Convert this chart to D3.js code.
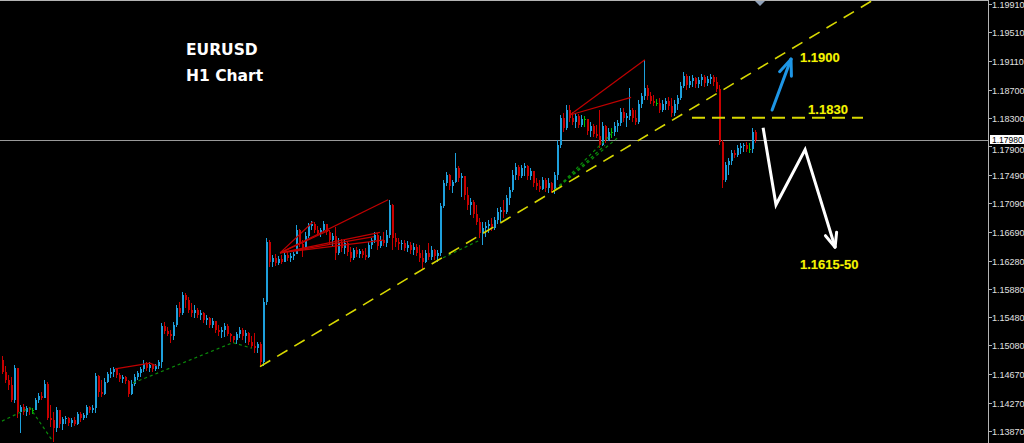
<!DOCTYPE html>
<html><head><meta charset="utf-8">
<script src="https://cdn.jsdelivr.net/npm/d3@7"></script>
<style>html,body{margin:0;padding:0;background:#000;overflow:hidden}</style>
</head><body><svg id="c" width="1024" height="443"></svg>
<script>
// ---- data (EURUSD H1) ----
const open0 = 1.1488;
const high = [
1.1493,1.1479,1.1466,1.1464,1.1481,1.1471,1.1424,1.1425,1.1423,1.1421,
1.1420,1.1434,1.1441,1.1442,1.1459,1.1457,1.1424,1.1414,1.1421,1.1414,
1.1407,1.1408,1.1407,1.1406,1.1407,1.1414,1.1414,1.1413,1.1424,1.1423,
1.1424,1.1469,1.1466,1.1459,1.1462,1.1471,1.1476,1.1478,1.1476,1.1469,
1.1466,1.1465,1.1459,1.1459,1.1468,1.1472,1.1478,1.1488,1.1485,1.1484,
1.1482,1.1482,1.1488,1.1540,1.1541,1.1534,1.1530,1.1541,1.1565,1.1570,
1.1584,1.1582,1.1577,1.1568,1.1565,1.1561,1.1558,1.1556,1.1551,1.1548,
1.1547,1.1543,1.1537,1.1534,1.1540,1.1538,1.1526,1.1522,1.1527,1.1534,
1.1533,1.1530,1.1527,1.1522,1.1526,1.1513,1.1513,1.1575,1.1660,1.1657,
1.1636,1.1638,1.1635,1.1636,1.1640,1.1640,1.1639,1.1640,1.1679,1.1673,
1.1657,1.1669,1.1681,1.1684,1.1683,1.1677,1.1674,1.1684,1.1680,1.1671,
1.1667,1.1676,1.1660,1.1659,1.1657,1.1656,1.1647,1.1646,1.1647,1.1645,
1.1645,1.1646,1.1655,1.1660,1.1669,1.1667,1.1663,1.1669,1.1671,1.1714,
1.1708,1.1667,1.1660,1.1657,1.1657,1.1656,1.1655,1.1653,1.1652,1.1650,
1.1643,1.1643,1.1653,1.1649,1.1645,1.1643,1.1710,1.1742,1.1754,1.1751,
1.1742,1.1780,1.1762,1.1752,1.1748,1.1732,1.1717,1.1714,1.1707,1.1689,
1.1683,1.1683,1.1686,1.1688,1.1690,1.1703,1.1704,1.1714,1.1721,1.1732,
1.1756,1.1766,1.1763,1.1763,1.1766,1.1763,1.1759,1.1754,1.1745,1.1742,
1.1746,1.1745,1.1745,1.1739,1.1754,1.1799,1.1834,1.1837,1.1848,1.1848,
1.1838,1.1837,1.1835,1.1834,1.1833,1.1827,1.1824,1.1821,1.1820,1.1841,
1.1824,1.1820,1.1816,1.1816,1.1824,1.1827,1.1844,1.1844,1.1837,1.1872,
1.1844,1.1841,1.1855,1.1865,1.1912,1.1877,1.1867,1.1862,1.1857,1.1858,
1.1855,1.1858,1.1860,1.1858,1.1855,1.1862,1.1881,1.1895,1.1892,1.1889,
1.1891,1.1888,1.1888,1.1892,1.1891,1.1889,1.1892,1.1891,1.1888,1.1877,
1.1799,1.1768,1.1773,1.1785,1.1785,1.1792,1.1795,1.1795,1.1796,1.1795,
1.1816,1.1813];
const low = [
1.1468,1.1455,1.1445,1.1428,1.1427,1.1406,1.1384,1.1410,1.1408,1.1410,
1.1411,1.1416,1.1427,1.1431,1.1433,1.1403,1.1393,1.1372,1.1385,1.1391,
1.1389,1.1397,1.1394,1.1393,1.1394,1.1396,1.1400,1.1403,1.1406,1.1413,
1.1413,1.1413,1.1435,1.1435,1.1438,1.1455,1.1462,1.1464,1.1462,1.1457,
1.1455,1.1454,1.1435,1.1438,1.1451,1.1459,1.1464,1.1471,1.1472,1.1471,
1.1471,1.1472,1.1474,1.1476,1.1524,1.1522,1.1512,1.1516,1.1534,1.1548,
1.1551,1.1561,1.1554,1.1548,1.1547,1.1547,1.1544,1.1540,1.1537,1.1533,
1.1533,1.1526,1.1522,1.1519,1.1520,1.1522,1.1513,1.1512,1.1510,1.1519,
1.1516,1.1512,1.1509,1.1505,1.1498,1.1498,1.1478,1.1479,1.1565,1.1619,
1.1619,1.1621,1.1622,1.1623,1.1626,1.1628,1.1626,1.1629,1.1638,1.1647,
1.1633,1.1643,1.1660,1.1671,1.1667,1.1663,1.1662,1.1669,1.1664,1.1650,
1.1649,1.1629,1.1636,1.1640,1.1638,1.1635,1.1626,1.1629,1.1633,1.1632,
1.1632,1.1629,1.1632,1.1645,1.1653,1.1643,1.1646,1.1649,1.1647,1.1660,
1.1643,1.1647,1.1643,1.1643,1.1642,1.1640,1.1638,1.1636,1.1635,1.1626,
1.1615,1.1625,1.1629,1.1629,1.1629,1.1626,1.1635,1.1703,1.1734,1.1728,
1.1724,1.1738,1.1739,1.1718,1.1714,1.1700,1.1693,1.1688,1.1679,1.1660,
1.1650,1.1662,1.1667,1.1670,1.1671,1.1680,1.1683,1.1688,1.1694,1.1707,
1.1725,1.1742,1.1742,1.1745,1.1748,1.1742,1.1742,1.1732,1.1728,1.1725,
1.1728,1.1725,1.1724,1.1724,1.1722,1.1742,1.1787,1.1810,1.1813,1.1824,
1.1820,1.1816,1.1816,1.1817,1.1817,1.1806,1.1803,1.1803,1.1802,1.1787,
1.1790,1.1795,1.1797,1.1802,1.1804,1.1810,1.1818,1.1824,1.1817,1.1827,
1.1824,1.1820,1.1821,1.1844,1.1855,1.1855,1.1850,1.1847,1.1847,1.1837,
1.1838,1.1841,1.1841,1.1831,1.1833,1.1841,1.1855,1.1872,1.1869,1.1872,
1.1874,1.1872,1.1872,1.1875,1.1874,1.1875,1.1878,1.1875,1.1867,1.1792,
1.1731,1.1739,1.1749,1.1763,1.1773,1.1775,1.1779,1.1782,1.1782,1.1780,
1.1780,1.1795];
const close = [
1.1471,1.1459,1.1452,1.1431,1.1476,1.1414,1.1421,1.1414,1.1420,1.1416,
1.1416,1.1431,1.1437,1.1434,1.1454,1.1406,1.1403,1.1391,1.1417,1.1397,
1.1404,1.1406,1.1399,1.1403,1.1397,1.1411,1.1406,1.1410,1.1421,1.1417,
1.1420,1.1465,1.1442,1.1440,1.1457,1.1468,1.1471,1.1474,1.1466,1.1461,
1.1464,1.1458,1.1440,1.1454,1.1464,1.1469,1.1475,1.1482,1.1476,1.1481,
1.1475,1.1479,1.1485,1.1536,1.1529,1.1524,1.1522,1.1537,1.1561,1.1554,
1.1580,1.1572,1.1558,1.1554,1.1558,1.1551,1.1554,1.1544,1.1547,1.1537,
1.1543,1.1530,1.1527,1.1530,1.1536,1.1524,1.1522,1.1516,1.1524,1.1530,
1.1522,1.1526,1.1513,1.1507,1.1505,1.1510,1.1485,1.1570,1.1655,1.1626,
1.1632,1.1625,1.1631,1.1626,1.1636,1.1632,1.1635,1.1638,1.1671,1.1652,
1.1646,1.1663,1.1677,1.1680,1.1671,1.1667,1.1671,1.1680,1.1669,1.1657,
1.1663,1.1639,1.1655,1.1646,1.1653,1.1640,1.1632,1.1643,1.1638,1.1642,
1.1636,1.1633,1.1650,1.1657,1.1664,1.1649,1.1657,1.1653,1.1664,1.1707,
1.1660,1.1655,1.1652,1.1653,1.1646,1.1650,1.1643,1.1647,1.1639,1.1632,
1.1626,1.1639,1.1633,1.1643,1.1635,1.1639,1.1705,1.1738,1.1749,1.1734,
1.1739,1.1759,1.1745,1.1748,1.1721,1.1707,1.1711,1.1694,1.1683,1.1667,
1.1674,1.1677,1.1680,1.1674,1.1686,1.1697,1.1700,1.1697,1.1717,1.1728,
1.1749,1.1761,1.1748,1.1759,1.1762,1.1748,1.1755,1.1738,1.1734,1.1730,
1.1742,1.1731,1.1738,1.1728,1.1749,1.1792,1.1830,1.1816,1.1841,1.1830,
1.1824,1.1833,1.1820,1.1828,1.1828,1.1811,1.1818,1.1807,1.1804,1.1792,
1.1818,1.1799,1.1810,1.1810,1.1818,1.1823,1.1838,1.1830,1.1833,1.1841,
1.1830,1.1824,1.1850,1.1861,1.1872,1.1861,1.1854,1.1851,1.1851,1.1841,
1.1850,1.1854,1.1847,1.1837,1.1850,1.1858,1.1875,1.1889,1.1877,1.1882,
1.1886,1.1878,1.1884,1.1888,1.1879,1.1885,1.1888,1.1881,1.1871,1.1796,
1.1742,1.1763,1.1769,1.1780,1.1778,1.1787,1.1790,1.1792,1.1786,1.1786,
1.1810,1.1798];

const tickLabels = ["1.19910","1.19510","1.19110","1.18700","1.18300","1.17900","1.17490",
  "1.17090","1.16690","1.16280","1.15880","1.15480","1.15080","1.14670","1.14270","1.13870"];
const lastPrice = 1.17980;

// annotation objects (bar index, price)
const trendAnchors = [[86, 1.1478], [140, 1.1615]];
const levelLine = {from: 230, to: 287, price: 1.1830};
const blueArrow = [[256.7, 1.1841], [263.0, 1.1913]];
const whiteZigzag = [[253.7, 1.1816], [258.0, 1.1707], [267.7, 1.1785], [277.7, 1.1647]];
const redLines = [
  [[37.7, 1.1475], [49.3, 1.1483], [51.7, 1.1479]],
  [[92.7, 1.1639], [128.7, 1.1714]],
  [[92.7, 1.1639], [103.7, 1.1683]],
  [[92.7, 1.1639], [109.0, 1.1671]],
  [[92.7, 1.1639], [126.0, 1.1668]],
  [[92.7, 1.1639], [127.0, 1.1657]],
  [[96.0, 1.1641], [124.0, 1.1662]],
  [[189.3, 1.1834], [214.3, 1.1912]],
  [[189.3, 1.1834], [209.7, 1.1859]]
];
const greenLines = [
  [[0, 1.1401], [9.3, 1.1420], [17.0, 1.1372]],
  [[43.7, 1.1455], [77.0, 1.1512], [83.3, 1.1504]],
  [[184.3, 1.1728], [203.3, 1.1808]],
  [[184.3, 1.1728], [205.0, 1.1801]],
  [[184.3, 1.1728], [201.0, 1.1791]],
  [[147.0, 1.1632], [159.3, 1.1657]]
];
const labels = [
  {text: "1.1900", bar: 266.0, price: 1.1909},
  {text: "1.1830", bar: 268.7, price: 1.1836},
  {text: "1.1615-50", bar: 266.0, price: 1.1616}
];
const titleLines = ["EURUSD", "H1 Chart"];

// ---- drawing ----
const W = 1024, H = 443, axisX = 988;
const svg = d3.select("#c");
svg.append("rect").attr("width", W).attr("height", H).attr("fill", "#000");

const x = d3.scaleLinear().domain([0, 251]).range([2, 755]);
const y = d3.scaleLinear().domain([1.13870, 1.19910]).range([431, 4]);

const bars = close.map((c, i) => {
  const o = i === 0 ? open0 : close[i - 1];
  return {i, o, c, h: Math.max(high[i], o, c), l: Math.min(low[i], o, c)};
});

const plot = svg.append("g");
// frame
plot.append("line").attr("x1", 0).attr("x2", axisX).attr("y1", 0.5).attr("y2", 0.5)
  .attr("stroke", "#b4b4b4").attr("stroke-width", 1);
// current price line
plot.append("line").attr("x1", 0).attr("x2", axisX).attr("y1", Math.round(y(lastPrice)) + 0.5)
  .attr("y2", Math.round(y(lastPrice)) + 0.5).attr("stroke", "#9a9a9a").attr("stroke-width", 1);

// candles
const colorOf = d => Math.abs(d.c - d.o) < 0.00005 ? "#00c000" : (d.c > d.o ? "#1ea0dc" : "#c80000");
const cg = plot.append("g").attr("shape-rendering", "crispEdges");
cg.selectAll("line.w").data(bars).join("line")
  .attr("x1", d => Math.round(x(d.i)) + 0.5).attr("x2", d => Math.round(x(d.i)) + 0.5)
  .attr("y1", d => y(d.h)).attr("y2", d => y(d.l))
  .attr("stroke", colorOf).attr("stroke-width", 1);
cg.selectAll("rect.b").data(bars).join("rect")
  .attr("x", d => Math.round(x(d.i))).attr("width", 2)
  .attr("y", d => y(Math.max(d.o, d.c)))
  .attr("height", d => Math.max(1, Math.abs(y(d.o) - y(d.c))))
  .attr("fill", colorOf);

const line = d3.line().x(p => x(p[0])).y(p => y(p[1]));

// green dotted lines
plot.selectAll("path.g").data(greenLines).join("path")
  .attr("d", line).attr("fill", "none").attr("stroke", "#0a8a0a")
  .attr("stroke-width", 1.2).attr("stroke-dasharray", "3,3");

// red pattern lines
plot.selectAll("path.r").data(redLines).join("path")
  .attr("d", line).attr("fill", "none").attr("stroke", "#c00000").attr("stroke-width", 1.2);

// yellow trend line (ray)
const [a0, a1] = trendAnchors;
const slope = (a1[1] - a0[1]) / (a1[0] - a0[0]);
const endBar = 300;
plot.append("path")
  .attr("d", line([a0, [endBar, a0[1] + slope * (endBar - a0[0])]]))
  .attr("fill", "none").attr("stroke", "#d8d800").attr("stroke-width", 1.6)
  .attr("stroke-dasharray", "12,8");

// horizontal level
plot.append("path")
  .attr("d", line([[levelLine.from, levelLine.price], [levelLine.to, levelLine.price]]))
  .attr("stroke", "#d8d800").attr("stroke-width", 2).attr("stroke-dasharray", "13,7");

// arrows
function arrowHead(g, pts, color, len, ang) {
  const p1 = pts[pts.length - 2], p2 = pts[pts.length - 1];
  const x1 = x(p1[0]), y1 = y(p1[1]), x2 = x(p2[0]), y2 = y(p2[1]);
  const th = Math.atan2(y2 - y1, x2 - x1);
  [ang, -ang].forEach(a => {
    g.append("line").attr("x1", x2).attr("y1", y2)
      .attr("x2", x2 - len * Math.cos(th + a)).attr("y2", y2 - len * Math.sin(th + a))
      .attr("stroke", color).attr("stroke-width", 3).attr("stroke-linecap", "round");
  });
}
const ag = plot.append("g");
ag.append("path").attr("d", line(blueArrow)).attr("fill", "none")
  .attr("stroke", "#1e96e6").attr("stroke-width", 3).attr("stroke-linecap", "round");
arrowHead(ag, blueArrow, "#1e96e6", 17, 0.38);
ag.append("path").attr("d", line(whiteZigzag)).attr("fill", "none")
  .attr("stroke", "#ffffff").attr("stroke-width", 3).attr("stroke-linejoin", "miter");
arrowHead(ag, whiteZigzag, "#ffffff", 15, 0.4);

// yellow labels
plot.selectAll("text.lab").data(labels).join("text")
  .attr("x", d => x(d.bar)).attr("y", d => y(d.price))
  .text(d => d.text)
  .attr("font-family", "Liberation Sans, Arial, sans-serif").attr("font-weight", "bold")
  .attr("font-size", 13).attr("fill", "#f5f500")
  .attr("stroke", "#3a3a00").attr("stroke-width", 0.6).attr("paint-order", "stroke");

// title
svg.selectAll("text.title").data(titleLines).join("text")
  .attr("x", 186).attr("y", (d, i) => 55 + i * 26)
  .text(d => d)
  .attr("font-family", "DejaVu Sans, Verdana, sans-serif").attr("font-weight", "bold")
  .attr("font-size", 15.5).attr("fill", "#ffffff");

// chart shift marker
svg.append("path").attr("d", "M755,1 L765,1 L760,6 Z").attr("fill", "#8fa0b8");

// right axis
const axisG = svg.append("g");
axisG.append("line").attr("x1", axisX + 0.5).attr("x2", axisX + 0.5).attr("y1", 0).attr("y2", H)
  .attr("stroke", "#b4b4b4");
const ly = Math.round(y(lastPrice));
const tg = axisG.selectAll("g.t").data(tickLabels).join("g")
  .attr("transform", d => `translate(0,${Math.round(y(+d)) + 0.5})`);
tg.append("line").attr("x1", axisX).attr("x2", axisX + 4).attr("stroke", "#b4b4b4");
// the label nearest the last-price box sits just below it
tg.append("text").attr("x", 992)
  .attr("y", d => Math.abs(y(+d) - ly) < 10 ? 6.5 : 3.5).text(d => d)
  .attr("font-family", "Liberation Sans, Arial, sans-serif").attr("font-size", 9)
  .attr("fill", "#e0e0e0");
// last price label
axisG.append("rect").attr("x", 990).attr("y", ly - 5).attr("width", 34).attr("height", 9)
  .attr("fill", "#ffffff");
axisG.append("text").attr("x", 992).attr("y", ly + 3).text(lastPrice.toFixed(5))
  .attr("font-family", "Liberation Sans, Arial, sans-serif").attr("font-size", 8.5).attr("fill", "#000");
</script></body></html>
